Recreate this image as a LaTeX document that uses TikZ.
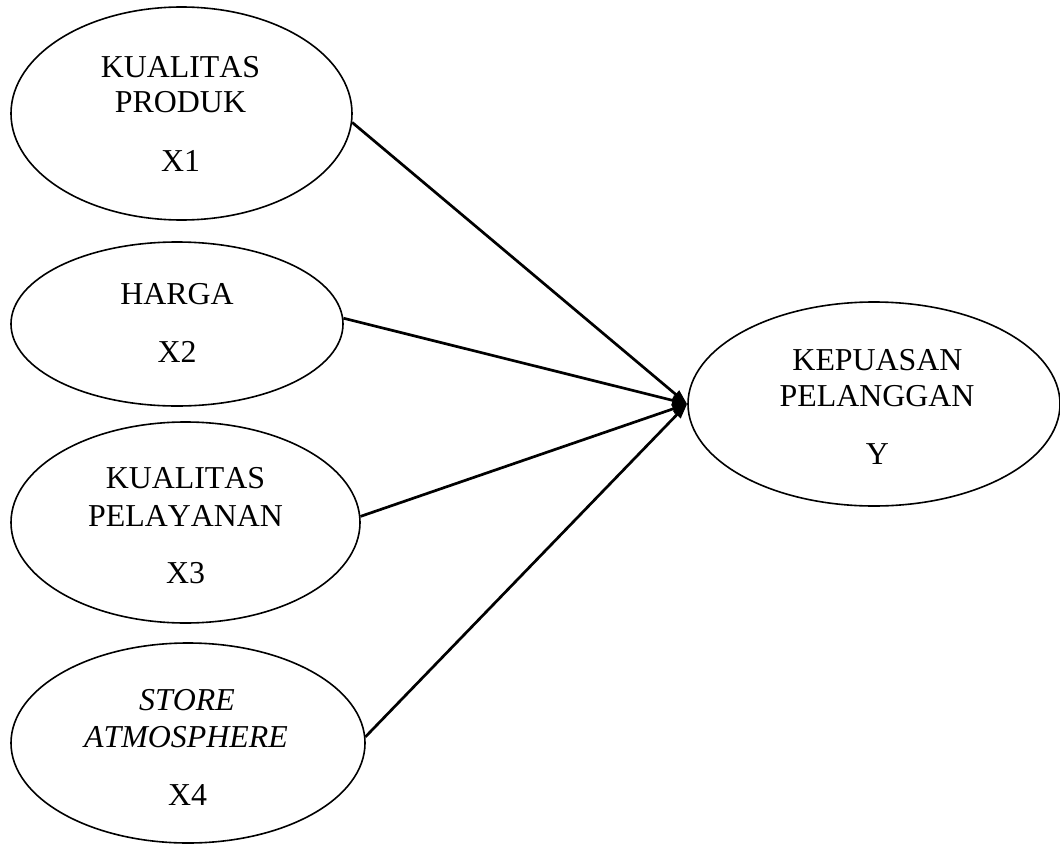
\documentclass[tikz,border=0pt]{standalone}
\usepackage{fontspec}
\setmainfont[Kerning=Off]{Liberation Serif}
\usetikzlibrary{shapes.geometric,arrows.meta}
\begin{document}
\begin{tikzpicture}[x=1bp,y=-1bp,
  var/.style={draw, ellipse, line width=1.6bp, inner sep=0pt},
  lbl/.style={anchor=base, inner sep=0pt, font=\fontsize{32}{36}\selectfont},
  path/.style={line width=2.7bp, -{Triangle[length=15bp,width=10bp]}}]
\useasboundingbox (0,0) rectangle (1060,845);
\node[var, minimum width=341bp, minimum height=213bp] (e1) at (181.5,113.5) {};
\node[var, minimum width=332bp, minimum height=164bp] (e2) at (177,324) {};
\node[var, minimum width=349bp, minimum height=201bp] (e3) at (185.5,522.5) {};
\node[var, minimum width=354bp, minimum height=200bp] (e4) at (188,743) {};
\node[var, minimum width=372bp, minimum height=204bp] (ey) at (874,404) {};
% texts
\node[lbl] (t1a) at (180.5,77) {KUALITAS};
\node[lbl] (t1b) at (180.5,112) {PRODUK};
\node[lbl] (t1c) at (180.5,171) {X1};
\node[lbl] (t2a) at (177,304) {HARGA};
\node[lbl] (t2b) at (177,362) {X2};
\node[lbl] (t3a) at (185.5,488) {KUALITAS};
\node[lbl] (t3b) at (185.5,526) {PELAYANAN};
\node[lbl] (t3c) at (185.5,583) {X3};
\node[lbl] (t4a) at (187,710) {\itshape STORE};
\node[lbl] (t4b) at (186,747) {\itshape ATMOSPHERE};
\node[lbl] (t4c) at (187.5,805) {X4};
\node[lbl] (tya) at (877.5,370) {KEPUASAN};
\node[lbl] (tyb) at (877,406) {PELANGGAN};
\node[lbl] (tyc) at (877.5,464) {Y};
% arrows
\draw[path] (e1.-3) -- (ey.west);
\draw[path] (e2.2) -- (ey.west);
\draw[path] (e3.2) -- (ey.west);
\draw[path] (e4.2.6) -- (ey.west);
\end{tikzpicture}
\end{document}
